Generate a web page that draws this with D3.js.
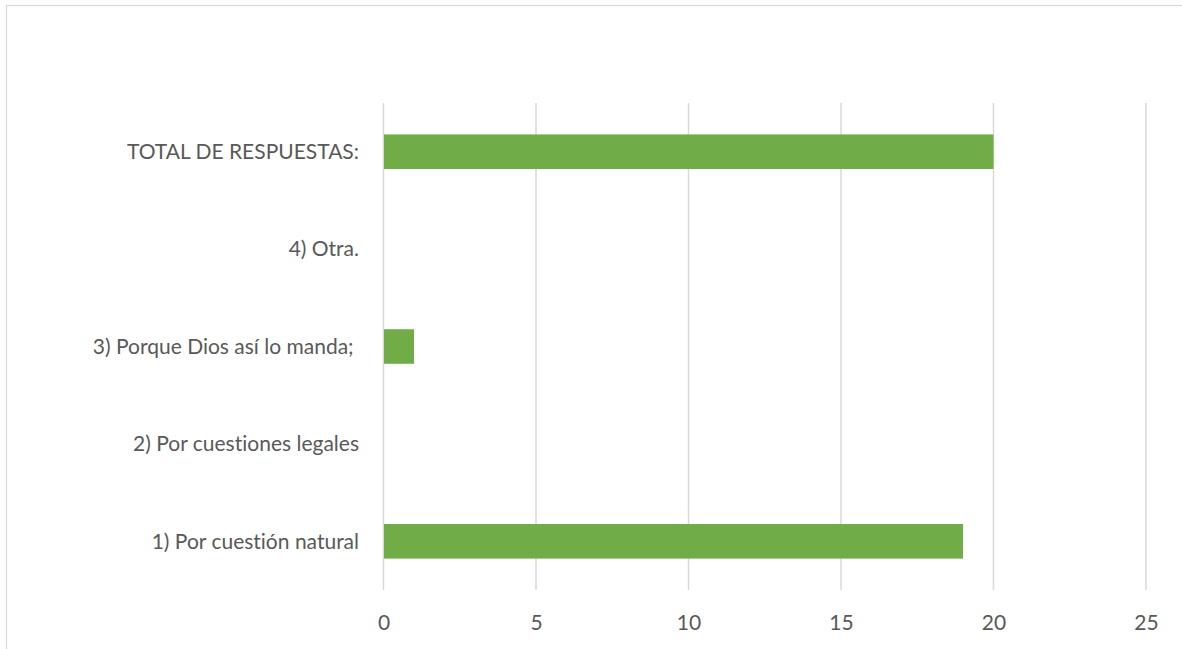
<!DOCTYPE html>
<html>
<head>
<meta charset="utf-8">
<script src="https://cdn.jsdelivr.net/npm/d3@7"></script>
<style>
  html, body { margin: 0; padding: 0; background: #fff; }
  svg { display: block; }
  text { font-variant-ligatures: none; }
</style>
</head>
<body>
<svg id="chart" width="1182" height="649"></svg>
<script>
const categories = ["TOTAL DE RESPUESTAS:", "4) Otra.", "3) Porque Dios así lo manda; ", "2) Por cuestiones legales", "1) Por cuestión natural"];
const values = [20, 0, 1, 0, 19];
const xTicks = [0, 5, 10, 15, 20, 25];

(function () {
const svg = d3.select("#chart");
const W = 1182, H = 649;
const font = "Lato, 'Open Sans', sans-serif";

svg.append("rect")
  .attr("x", 6.5).attr("y", 5.5)
  .attr("width", W + 10).attr("height", H + 10)
  .attr("fill", "#fff").attr("stroke", "#d9d9d9").attr("stroke-width", 1.3);

const pLeft = 383.5, pRight = 1146, pTop = 103, pBottom = 590;

const x = d3.scaleLinear().domain([0, 25]).range([pLeft, pRight]);
const y = d3.scaleBand().domain(categories).range([pTop, pBottom]).paddingInner(0.645).paddingOuter(0.3225);

svg.append("g").selectAll("line").data(xTicks).join("line")
  .attr("x1", d => x(d)).attr("x2", d => x(d))
  .attr("y1", pTop).attr("y2", pBottom)
  .attr("stroke", "#d9d9d9").attr("stroke-width", 1.5);

svg.append("g").selectAll("rect").data(categories).join("rect")
  .attr("x", x(0) + 0.5)
  .attr("y", d => y(d))
  .attr("width", (d, i) => Math.max(0, x(values[i]) - x(0) - 0.5))
  .attr("height", y.bandwidth())
  .attr("fill", "#70ad47");

const xAxis = d3.axisBottom(x).tickValues(xTicks).tickSize(0).tickPadding(0);
const gx = svg.append("g").attr("transform", `translate(0, ${pBottom})`).call(xAxis);
gx.select(".domain").remove();
gx.selectAll("text")
  .attr("y", 0).attr("dy", 0)
  .attr("transform", "translate(0, 40)")
  .style("font-family", font).style("font-size", "21px").attr("fill", "#595959");

const yAxis = d3.axisLeft(y).tickSize(0).tickPadding(0);
const gy = svg.append("g").attr("transform", `translate(359, 0)`).call(yAxis);
gy.select(".domain").remove();
gy.selectAll("text")
  .attr("x", 0).attr("dy", "0.35em")
  .style("font-family", font).style("font-size", "21px").attr("fill", "#595959")
  .style("white-space", "pre");
})();
</script>
</body>
</html>
